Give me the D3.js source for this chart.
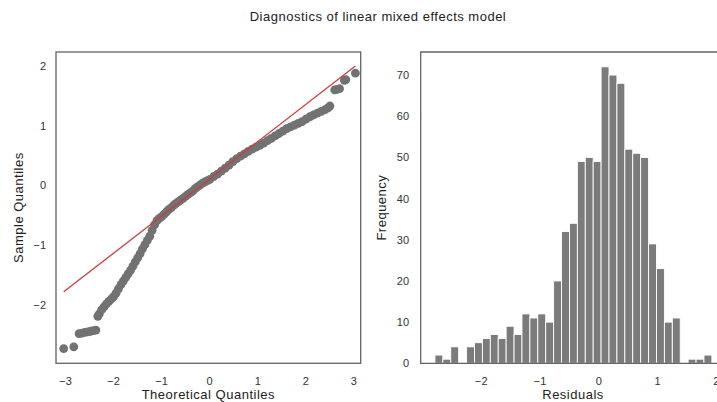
<!DOCTYPE html>
<html>
<head>
<meta charset="utf-8">
<script src="https://cdn.jsdelivr.net/npm/d3@7"></script>
<style>
  body { margin: 0; background: #fff; }
  svg { display: block; font-family: "Liberation Sans", Arial, sans-serif; }
  .tick-label { font-size: 11px; fill: #333; letter-spacing: 0.3px; }
  .axis-title { font-size: 13px; fill: #222; letter-spacing: 0.5px; }
</style>
</head>
<body>
<div id="chart"></div>
<script>
// Q-Q plot points: [theoretical quantile, sample quantile]
var qqPoints = [
  [-3.04, -2.73], [-2.83, -2.70],
  [-2.72, -2.48], [-2.66, -2.47], [-2.60, -2.46], [-2.54, -2.45], [-2.48, -2.44], [-2.42, -2.43], [-2.37, -2.42],
  [-2.33, -2.19], [-2.30, -2.15], [-2.25, -2.08], [-2.20, -2.03], [-2.15, -1.98], [-2.10, -1.94],
  [-2.05, -1.90], [-2.00, -1.86], [-1.95, -1.80], [-1.90, -1.73], [-1.85, -1.66], [-1.80, -1.60],
  [-1.75, -1.54], [-1.70, -1.48], [-1.65, -1.42], [-1.60, -1.35], [-1.55, -1.28], [-1.50, -1.21],
  [-1.45, -1.14], [-1.40, -1.06], [-1.35, -0.99], [-1.30, -0.92], [-1.25, -0.85], [-1.20, -0.75],
  [-1.15, -0.66], [-1.10, -0.59], [-1.05, -0.55], [-1.00, -0.52], [-0.95, -0.48], [-0.90, -0.44],
  [-0.85, -0.40], [-0.80, -0.37], [-0.75, -0.33], [-0.70, -0.30], [-0.65, -0.27], [-0.60, -0.24],
  [-0.55, -0.21], [-0.50, -0.18], [-0.45, -0.15], [-0.40, -0.12], [-0.35, -0.09], [-0.30, -0.05],
  [-0.25, -0.02], [-0.20, 0.01], [-0.15, 0.04], [-0.10, 0.06], [-0.05, 0.08], [0.00, 0.10],
  [0.08, 0.15], [0.16, 0.19], [0.24, 0.24], [0.32, 0.29], [0.40, 0.34], [0.48, 0.40],
  [0.56, 0.45], [0.64, 0.49], [0.72, 0.53], [0.80, 0.57], [0.88, 0.61], [0.96, 0.64],
  [1.04, 0.67], [1.12, 0.71], [1.20, 0.75], [1.28, 0.79], [1.36, 0.83], [1.44, 0.87],
  [1.52, 0.91], [1.60, 0.95], [1.68, 0.98], [1.76, 1.01], [1.84, 1.04], [1.92, 1.07],
  [2.00, 1.11], [2.08, 1.15], [2.16, 1.18], [2.24, 1.21], [2.32, 1.24], [2.40, 1.27],
  [2.46, 1.30], [2.50, 1.33],
  [2.60, 1.60], [2.65, 1.61], [2.70, 1.62], [2.80, 1.76], [2.83, 1.77], [3.03, 1.88]
];

// reference line of the Q-Q plot (two end points)
var qqLine = [[-3.04, -1.78], [3.03, 2.00]];

// histogram of residuals
var histRange = [-2.79, 1.92];
var histCounts = [2, 1, 4, 0, 4, 5, 6, 7, 6, 9, 7, 12, 11, 12, 10, 20, 32, 34, 49, 50,
  49, 72, 70, 68, 52, 51, 50, 29, 23, 10, 11, 0, 1, 1, 2];

var qqXTicks = [-3, -2, -1, 0, 1, 2, 3];
var qqYTicks = [-2, -1, 0, 1, 2];
var histXTicks = [-2, -1, 0, 1, 2];
var histYTicks = [0, 10, 20, 30, 40, 50, 60, 70];

var width = 717, height = 402;
var svg = d3.select("#chart").append("svg")
  .attr("width", width)
  .attr("height", height);

var plotTop = 52, plotBottom = 363.3;
var frameColor = "#636363";

function fmt(d) {
  return d < 0 ? "\u2212" + Math.abs(d) : "" + d;
}

svg.append("text")
  .attr("x", 378)
  .attr("y", 20.5)
  .attr("text-anchor", "middle")
  .attr("class", "axis-title")
  .text("Diagnostics of linear mixed effects model");

// ---------- left: Q-Q plot ----------
var qqX = d3.scaleLinear().domain([-3.2, 3.14]).range([56, 360.7]);
var qqY = d3.scaleLinear().domain([-2.976, 2.234]).range([plotBottom, plotTop]);

var leftG = svg.append("g");

leftG.selectAll(".qq-dot")
  .data(qqPoints)
  .enter()
  .append("circle")
  .attr("class", "qq-dot")
  .attr("cx", (d) => qqX(d[0]))
  .attr("cy", (d) => qqY(d[1]))
  .attr("r", 4.4)
  .attr("fill", "#727272");

leftG.append("path")
  .datum(qqLine)
  .attr("fill", "none")
  .attr("stroke", "#cc3b3f")
  .attr("stroke-width", 1.3)
  .attr("d", d3.line().x((d) => qqX(d[0])).y((d) => qqY(d[1])));

leftG.append("rect")
  .attr("x", qqX.range()[0])
  .attr("y", plotTop)
  .attr("width", qqX.range()[1] - qqX.range()[0])
  .attr("height", plotBottom - plotTop)
  .attr("fill", "none")
  .attr("stroke", frameColor)
  .attr("stroke-width", 1.3);

leftG.selectAll(".xlab")
  .data(qqXTicks)
  .enter()
  .append("text")
  .attr("class", "tick-label")
  .attr("x", (d) => qqX(d))
  .attr("y", 384.5)
  .attr("text-anchor", "middle")
  .text(fmt);

leftG.selectAll(".ylab")
  .data(qqYTicks)
  .enter()
  .append("text")
  .attr("class", "tick-label")
  .attr("x", 46.5)
  .attr("y", (d) => qqY(d) + 4)
  .attr("text-anchor", "end")
  .text(fmt);

leftG.append("text")
  .attr("class", "axis-title")
  .attr("x", (qqX.range()[0] + qqX.range()[1]) / 2)
  .attr("y", 399)
  .attr("text-anchor", "middle")
  .text("Theoretical Quantiles");

leftG.append("text")
  .attr("class", "axis-title")
  .attr("transform", "translate(23," + ((plotTop + plotBottom) / 2) + ") rotate(-90)")
  .attr("text-anchor", "middle")
  .text("Sample Quantiles");

// ---------- right: histogram ----------
var hX = d3.scaleLinear().domain([-3.032, 2.15]).range([420.7, 725.4]);
var hY = d3.scaleLinear().domain([0, 75.6]).range([plotBottom, plotTop]);

var binW = (histRange[1] - histRange[0]) / histCounts.length;
var bins = histCounts.map((c, i) => {
  return { x0: histRange[0] + i * binW, x1: histRange[0] + (i + 1) * binW, n: c };
});

var rightG = svg.append("g");

rightG.selectAll(".bar")
  .data(bins.filter((d) => d.n > 0))
  .enter()
  .append("rect")
  .attr("class", "bar")
  .attr("x", (d) => hX(d.x0))
  .attr("y", (d) => hY(d.n))
  .attr("width", (d) => hX(d.x1) - hX(d.x0))
  .attr("height", (d) => hY(0) - hY(d.n))
  .attr("fill", "#7b7b7b")
  .attr("stroke", "#fff")
  .attr("stroke-width", 0.9);

rightG.append("path")
  .attr("d", "M" + hX.range()[1] + "," + plotTop + "H" + hX.range()[0] + "V" + plotBottom + "H" + hX.range()[1])
  .attr("fill", "none")
  .attr("stroke", frameColor)
  .attr("stroke-width", 1.3);

rightG.selectAll(".xlab")
  .data(histXTicks)
  .enter()
  .append("text")
  .attr("class", "tick-label")
  .attr("x", (d) => hX(d))
  .attr("y", 384.5)
  .attr("text-anchor", "middle")
  .text(fmt);

rightG.selectAll(".ylab")
  .data(histYTicks)
  .enter()
  .append("text")
  .attr("class", "tick-label")
  .attr("x", 409.5)
  .attr("y", (d) => hY(d) + 4)
  .attr("text-anchor", "end")
  .text(fmt);

rightG.append("text")
  .attr("class", "axis-title")
  .attr("x", (hX.range()[0] + hX.range()[1]) / 2)
  .attr("y", 399)
  .attr("text-anchor", "middle")
  .text("Residuals");

rightG.append("text")
  .attr("class", "axis-title")
  .attr("transform", "translate(386," + ((plotTop + plotBottom) / 2) + ") rotate(-90)")
  .attr("text-anchor", "middle")
  .text("Frequency");
</script>
</body>
</html>
